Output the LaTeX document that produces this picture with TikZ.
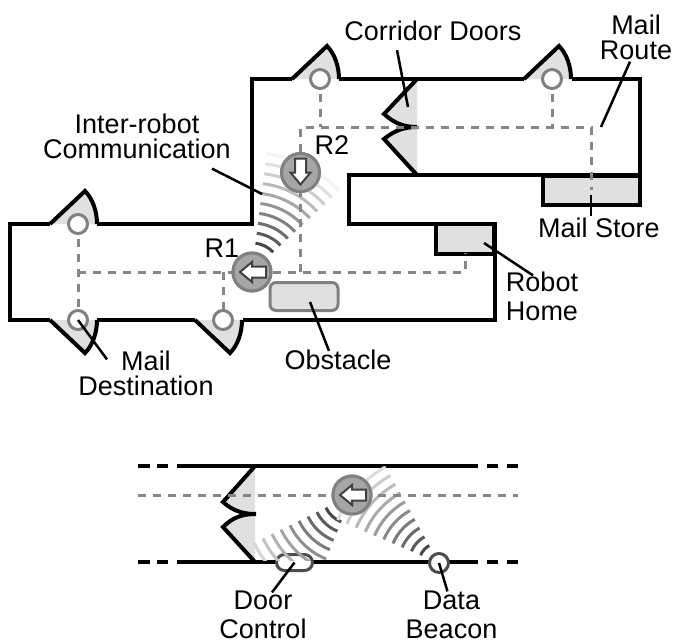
\documentclass[tikz,border=0pt]{standalone}
\usepackage{fontspec}
\setmainfont{Liberation Sans}
\usetikzlibrary{positioning}
\definecolor{RouteGray}{HTML}{868686}
\definecolor{FillGray}{HTML}{E0E0E0}
\definecolor{RobotGray}{HTML}{A6A6A6}
\definecolor{RimGray}{HTML}{808080}
\tikzset{
    wall/.style={line width=4pt, line join=miter},
    mailroute/.style={draw=RouteGray, line width=3pt, dash pattern=on 8pt off 7pt},
    leader/.style={line width=2.5pt},
    lbl/.style={font=\fontsize{27}{27}\selectfont, align=center, inner sep=0pt},
    robot/.style={circle, draw=RimGray, fill=RobotGray, line width=3pt, minimum size=38pt, inner sep=0pt},
    post/.style={circle, draw=RimGray, fill=white, line width=3pt, minimum size=19pt, inner sep=0pt},
    wave/.style={line width=3pt},
    doorwedge/.pic={
        \fill[FillGray] (0,0) -- (35,33) .. controls (43,25) and (47,12) .. (47,0) -- cycle;
        \draw[wall] (0,0) -- (35,33) .. controls (43,25) and (47,12) .. (47,0);
    },
    blockarrow/.pic={
        \draw[fill=white, draw=black!75, line width=2pt] (-12,0) -- (0,10) -- (0,5.5) -- (14,5.5) -- (14,-5.5) -- (0,-5.5) -- (0,-10) -- cycle;
    }
}

\begin{document}
\begin{tikzpicture}[x=1pt, y=1pt]
    \useasboundingbox (0,0) rectangle (674,-641);

    % Door wedges along the walls
    \foreach \px/\py/\sy in {50/-224/1, 292/-79/1, 524/-79/1, 50/-320/-1, 195/-320/-1} {
        \pic[yscale=\sy] at (\px,\py) {doorwedge};
    }

    % Corridor doors
    \fill[FillGray] (417,-79) -- (384,-114) .. controls (395,-124) and (405,-127) .. (417,-127) .. controls (405,-127) and (395,-130) .. (384,-139) -- (417,-175) -- cycle;
    \draw[wall] (417,-79) -- (384,-114) .. controls (395,-124) and (405,-127) .. (417,-127) .. controls (405,-127) and (395,-130) .. (384,-139) -- (417,-175);

    % Stores
    \node[draw, wall, fill=FillGray, minimum width=97pt, minimum height=29pt, inner sep=0pt] (mailstore) at (591.5,-190) {};
    \node[draw, wall, fill=FillGray, minimum width=58pt, minimum height=30pt, inner sep=0pt] (home) at (465,-238.5) {};

    % Walls
    \draw[wall] (50,-224) -- (10,-224) -- (10,-320) -- (50,-320);
    \draw[wall] (97,-320) -- (195,-320);
    \draw[wall] (243,-320) -- (495,-320) -- (495,-224) -- (349,-224) -- (349,-175) -- (640,-175) -- (640,-79) -- (572,-79);
    \draw[wall] (524,-79) -- (339,-79);
    \draw[wall] (292,-79) -- (252,-79) -- (252,-224) -- (97,-224);

    % Robots
    \node[robot] (robotA) at (252,-272) {};
    \node[robot] (robotB) at (300.5,-172.5) {};

    % Inter-robot waves
    \foreach \i in {0,...,9} {
        \pgfmathsetmacro{\tint}{72-7.5*\i}
        \pgfmathsetmacro{\rad}{29+10*\i}
        \draw[wave, black!\tint] (robotA.center) ++(83:\rad) arc[start angle=83, delta angle=-40, radius=\rad];
    }

    % Mail route
    \draw[mailroute] (78,-224) -- (78,-320);
    \draw[mailroute] (78,-272) -- (465,-272) -- (465,-253);
    \draw[mailroute] (223,-272) -- (223,-320);
    \draw[mailroute] (300.5,-272) -- (300.5,-127) -- (591,-127) -- (591,-190);
    \draw[mailroute] (320,-79) -- (320,-127);
    \draw[mailroute] (552,-79) -- (552,-127);

    % Redraw robots over waves and route
    \node[robot] at (robotA) {};
    \node[robot] at (robotB) {};
    \pic at (robotA) {blockarrow};
    \pic[rotate=90] at (robotB) {blockarrow};

    % Mail destinations
    \node[post] (destA) at (78,-224) {};
    \node[post] (destB) at (78,-320) {};
    \node[post] (destC) at (223,-320) {};
    \node[post] (destD) at (320,-79) {};
    \node[post] (destE) at (552,-79) {};

    % Obstacle
    \node[draw=RimGray, fill=FillGray, line width=3pt, rounded corners=6pt, minimum width=68pt, minimum height=28pt, inner sep=0pt] (obstacle) at (304,-296.5) {};

    % Labels
    \node[lbl] (doorslbl) at (433,-31) {Corridor Doors};
    \node[lbl] (routelbl) at (636,-37) {Mail\\[-2pt]Route};
    \node[lbl] (storelbl) at (599,-228) {Mail Store};
    \node[lbl] (homelbl) at (542,-296) {Robot\\[2pt]Home};
    \node[lbl] (commlbl) at (137,-136) {Inter-robot\\[-2pt]Communication};
    \node[lbl] (destlbl) at (146,-373) {Mail\\[-2pt]Destination};
    \node[lbl] (obstaclelbl) at (338,-360) {Obstacle};
    \node[lbl] (rAlbl) at (222,-248) {R1};
    \node[lbl] (rBlbl) at (332,-145) {R2};

    % Leader lines
    \coordinate (doorsend) at (408,-107);
    \coordinate (routeend) at (601,-127);
    \coordinate (homeend) at (484,-243);
    \coordinate (commend) at (262,-194);
    \coordinate (obstacleend) at (310,-302);
    \draw[leader] (doorslbl.south) ++(-36,-9) -- (doorsend);
    \draw[leader] (routelbl.south) ++(-6,-2) -- (routeend);
    \draw[leader] (storelbl.north) ++(-8,2) -- (591,-195);
    \draw[leader] (homelbl.north) ++(-9,-4) -- (homeend);
    \draw[leader] (commlbl.south) ++(75,-10) -- (commend);
    \draw[leader] (destlbl.north) ++(-39,-9) -- (destB.center);
    \draw[leader] (obstaclelbl.north) ++(-9,-1) -- (obstacleend);

    % Door detail: corridor
    \draw[wall] (138,-466) -- (150,-466) (157,-466) -- (168,-466) (177,-466) -- (478,-466) (487,-466) -- (498,-466) (507,-466) -- (518,-466);
    \draw[wall] (138,-562) -- (150,-562) (157,-562) -- (168,-562) (177,-562) -- (478,-562) (487,-562) -- (498,-562) (507,-562) -- (518,-562);
    \fill[FillGray] (255,-466) -- (223,-502) .. controls (233,-511) and (243,-514) .. (256,-514) .. controls (243,-514) and (233,-517) .. (223,-527) -- (255,-562) -- cycle;
    \draw[wall] (255,-466) -- (223,-502) .. controls (233,-511) and (243,-514) .. (256,-514) .. controls (243,-514) and (233,-517) .. (223,-527) -- (255,-562);

    % Robot and devices
    \node[robot] (robotC) at (352,-495) {};
    \node[draw=black!70, fill=white, line width=3pt, rounded corners=8pt, minimum width=36pt, minimum height=16pt, inner sep=0pt] (doorctrl) at (294.5,-562.5) {};
    \node[post, draw=black!70] (beacon) at (439,-563) {};

    % Robot waves
    \begin{scope}
        \clip (130,-466) rectangle (530,-560);
        \foreach \i in {0,...,8} {
            \pgfmathsetmacro{\tint}{72-7*\i}
            \pgfmathsetmacro{\rad}{29+10*\i}
            \draw[wave, black!\tint] (robotC.center) ++(206:\rad) arc[start angle=206, delta angle=42, radius=\rad];
        }
        \foreach \i in {0,...,9} {
            \pgfmathsetmacro{\tint}{72-6.5*\i}
            \pgfmathsetmacro{\rad}{20+10*\i}
            \draw[wave, black!\tint] (beacon.center) ++(157:\rad) arc[start angle=157, delta angle=-38, radius=\rad];
        }
    \end{scope}

    % Route and robot on top
    \draw[mailroute] (138,-495) -- (518,-495);
    \node[robot] at (robotC) {};
    \pic at (robotC) {blockarrow};

    % Detail labels
    \node[lbl] (ctrllbl) at (263,-614.5) {Door\\[2pt]Control};
    \node[lbl] (beaconlbl) at (451.5,-614.5) {Data\\[2pt]Beacon};
    \draw[leader] (ctrllbl.north) ++(9,-2) -- (doorctrl.center);
    \draw[leader] (beaconlbl.north) ++(-4,-1) -- (beacon.center);
\end{tikzpicture}
\end{document}
